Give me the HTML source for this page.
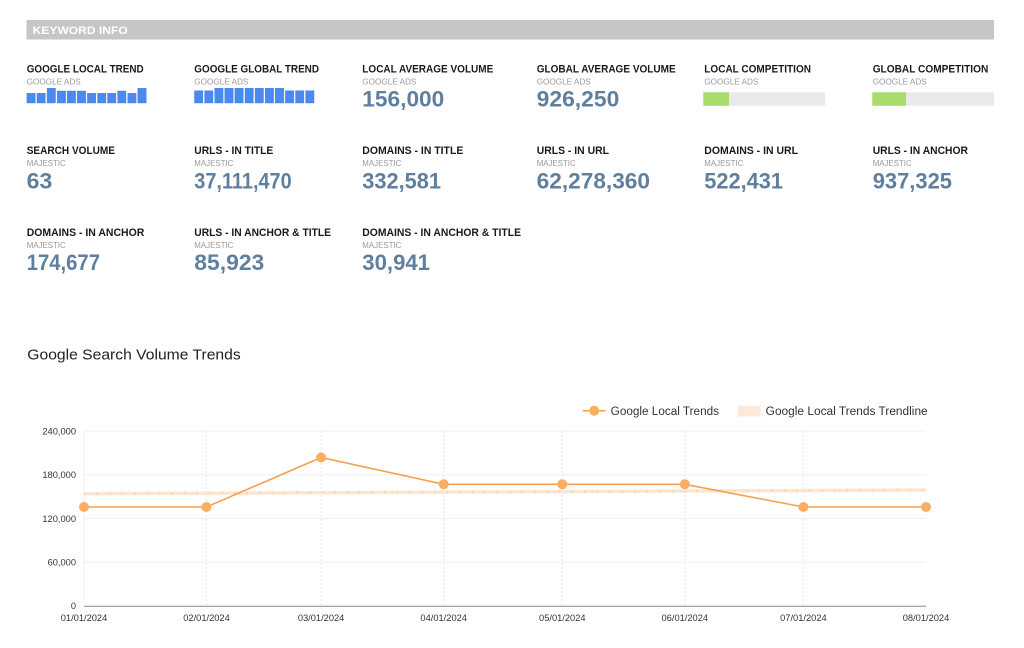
<!DOCTYPE html>
<html>
<head>
<meta charset="utf-8">
<style>
html,body{margin:0;padding:0;background:#fff;}
svg{display:block;}
text{font-family:"Liberation Sans",Arial,sans-serif;}
.t{font-weight:bold;font-size:11px;fill:#1a1a1a;}
.s{font-size:8.4px;fill:#9a9a9a;}
.v{font-weight:bold;font-size:22px;fill:#5f7f9e;}
.ax{font-size:9.3px;fill:#333;}
</style>
</head>
<body>
<svg width="1024" height="648" viewBox="0 0 1024 648" xmlns="http://www.w3.org/2000/svg">
<rect x="0" y="0" width="1024" height="648" fill="#fff"/>
<!-- header -->
<rect x="26.5" y="20" width="967.5" height="19.5" fill="#c6c6c6"/>
<text x="32.7" y="34" font-weight="bold" font-size="11" fill="#fff" textLength="95" lengthAdjust="spacingAndGlyphs">KEYWORD INFO</text>

<!-- Row 1 -->
<text class="t" x="26.7" y="72.3" textLength="117" lengthAdjust="spacingAndGlyphs">GOOGLE LOCAL TREND</text>
<text class="s" x="26.7" y="84.3" textLength="54" lengthAdjust="spacingAndGlyphs">GOOGLE ADS</text>
<g fill="#4a88f2" stroke="#3f7be6" stroke-width="0.4">
<rect x="26.9" y="93.3" width="8.4" height="9.7"/>
<rect x="37.0" y="93.3" width="8.4" height="9.7"/>
<rect x="47.1" y="88.3" width="8.4" height="14.7"/>
<rect x="57.2" y="91" width="8.4" height="12"/>
<rect x="67.2" y="91" width="8.4" height="12"/>
<rect x="77.3" y="91" width="8.4" height="12"/>
<rect x="87.4" y="93.3" width="8.4" height="9.7"/>
<rect x="97.5" y="93.3" width="8.4" height="9.7"/>
<rect x="107.5" y="93.3" width="8.4" height="9.7"/>
<rect x="117.6" y="91" width="8.4" height="12"/>
<rect x="127.7" y="93.3" width="8.4" height="9.7"/>
<rect x="137.8" y="88.3" width="8.4" height="14.7"/>
</g>

<text class="t" x="194.3" y="72.3" textLength="124.7" lengthAdjust="spacingAndGlyphs">GOOGLE GLOBAL TREND</text>
<text class="s" x="194.3" y="84.3" textLength="54" lengthAdjust="spacingAndGlyphs">GOOGLE ADS</text>
<g fill="#4a88f2" stroke="#3f7be6" stroke-width="0.4">
<rect x="194.5" y="90.7" width="8.4" height="12.3"/>
<rect x="204.6" y="90.7" width="8.4" height="12.3"/>
<rect x="214.7" y="88.3" width="8.4" height="14.7"/>
<rect x="224.8" y="88.3" width="8.4" height="14.7"/>
<rect x="234.9" y="88.3" width="8.4" height="14.7"/>
<rect x="245.0" y="88.3" width="8.4" height="14.7"/>
<rect x="255.1" y="88.3" width="8.4" height="14.7"/>
<rect x="265.2" y="88.3" width="8.4" height="14.7"/>
<rect x="275.3" y="88.3" width="8.4" height="14.7"/>
<rect x="285.4" y="90.7" width="8.4" height="12.3"/>
<rect x="295.5" y="90.7" width="8.4" height="12.3"/>
<rect x="305.6" y="90.7" width="8.4" height="12.3"/>
</g>

<text class="t" x="362.3" y="72.3" textLength="131" lengthAdjust="spacingAndGlyphs">LOCAL AVERAGE VOLUME</text>
<text class="s" x="362.3" y="84.3" textLength="54" lengthAdjust="spacingAndGlyphs">GOOGLE ADS</text>
<text class="v" x="362.3" y="106.4" textLength="82" lengthAdjust="spacingAndGlyphs">156,000</text>

<text class="t" x="536.7" y="72.3" textLength="139" lengthAdjust="spacingAndGlyphs">GLOBAL AVERAGE VOLUME</text>
<text class="s" x="536.7" y="84.3" textLength="54" lengthAdjust="spacingAndGlyphs">GOOGLE ADS</text>
<text class="v" x="536.7" y="106.4" textLength="82.6" lengthAdjust="spacingAndGlyphs">926,250</text>

<text class="t" x="704.3" y="72.3" textLength="106.7" lengthAdjust="spacingAndGlyphs">LOCAL COMPETITION</text>
<text class="s" x="704.3" y="84.3" textLength="54" lengthAdjust="spacingAndGlyphs">GOOGLE ADS</text>
<rect x="703.3" y="92.3" width="121.7" height="13.4" fill="#e8e9eb"/>
<rect x="703.3" y="92.3" width="25.7" height="13.4" fill="#a9dc6b"/>

<text class="t" x="872.7" y="72.3" textLength="115.6" lengthAdjust="spacingAndGlyphs">GLOBAL COMPETITION</text>
<text class="s" x="872.7" y="84.3" textLength="54" lengthAdjust="spacingAndGlyphs">GOOGLE ADS</text>
<rect x="872.3" y="92.3" width="121.7" height="13.4" fill="#e8e9eb"/>
<rect x="872.3" y="92.3" width="33.7" height="13.4" fill="#a9dc6b"/>

<!-- Row 2 -->
<text class="t" x="26.7" y="154" textLength="88.3" lengthAdjust="spacingAndGlyphs">SEARCH VOLUME</text>
<text class="s" x="26.7" y="166" textLength="39" lengthAdjust="spacingAndGlyphs">MAJESTIC</text>
<text class="v" x="26.7" y="188.3" textLength="25.6" lengthAdjust="spacingAndGlyphs">63</text>

<text class="t" x="194.3" y="154" textLength="79" lengthAdjust="spacingAndGlyphs">URLS - IN TITLE</text>
<text class="s" x="194.3" y="166" textLength="39" lengthAdjust="spacingAndGlyphs">MAJESTIC</text>
<text class="v" x="194.3" y="188.3" textLength="97.4" lengthAdjust="spacingAndGlyphs">37,111,470</text>

<text class="t" x="362.3" y="154" textLength="101" lengthAdjust="spacingAndGlyphs">DOMAINS - IN TITLE</text>
<text class="s" x="362.3" y="166" textLength="39" lengthAdjust="spacingAndGlyphs">MAJESTIC</text>
<text class="v" x="362.3" y="188.3" textLength="78.7" lengthAdjust="spacingAndGlyphs">332,581</text>

<text class="t" x="536.7" y="154" textLength="72.3" lengthAdjust="spacingAndGlyphs">URLS - IN URL</text>
<text class="s" x="536.7" y="166" textLength="39" lengthAdjust="spacingAndGlyphs">MAJESTIC</text>
<text class="v" x="536.7" y="188.3" textLength="113.3" lengthAdjust="spacingAndGlyphs">62,278,360</text>

<text class="t" x="704.3" y="154" textLength="93.7" lengthAdjust="spacingAndGlyphs">DOMAINS - IN URL</text>
<text class="s" x="704.3" y="166" textLength="39" lengthAdjust="spacingAndGlyphs">MAJESTIC</text>
<text class="v" x="704.3" y="188.3" textLength="78.7" lengthAdjust="spacingAndGlyphs">522,431</text>

<text class="t" x="872.7" y="154" textLength="95.3" lengthAdjust="spacingAndGlyphs">URLS - IN ANCHOR</text>
<text class="s" x="872.7" y="166" textLength="39" lengthAdjust="spacingAndGlyphs">MAJESTIC</text>
<text class="v" x="872.7" y="188.3" textLength="79.3" lengthAdjust="spacingAndGlyphs">937,325</text>

<!-- Row 3 -->
<text class="t" x="26.7" y="236" textLength="117.6" lengthAdjust="spacingAndGlyphs">DOMAINS - IN ANCHOR</text>
<text class="s" x="26.7" y="248" textLength="39" lengthAdjust="spacingAndGlyphs">MAJESTIC</text>
<text class="v" x="26.7" y="270" textLength="73.3" lengthAdjust="spacingAndGlyphs">174,677</text>

<text class="t" x="194.3" y="236" textLength="136.7" lengthAdjust="spacingAndGlyphs">URLS - IN ANCHOR &amp; TITLE</text>
<text class="s" x="194.3" y="248" textLength="39" lengthAdjust="spacingAndGlyphs">MAJESTIC</text>
<text class="v" x="194.3" y="270" textLength="70" lengthAdjust="spacingAndGlyphs">85,923</text>

<text class="t" x="362.3" y="236" textLength="158.7" lengthAdjust="spacingAndGlyphs">DOMAINS - IN ANCHOR &amp; TITLE</text>
<text class="s" x="362.3" y="248" textLength="39" lengthAdjust="spacingAndGlyphs">MAJESTIC</text>
<text class="v" x="362.3" y="270" textLength="67.7" lengthAdjust="spacingAndGlyphs">30,941</text>

<!-- Chart title -->
<text x="27.3" y="359.3" font-size="14.5" fill="#222" textLength="213.4" lengthAdjust="spacingAndGlyphs">Google Search Volume Trends</text>

<!-- Legend -->
<line x1="582.7" y1="410.7" x2="605.7" y2="410.7" stroke="#f7a04c" stroke-width="1.5"/>
<circle cx="594.2" cy="410.7" r="5" fill="#fbad62"/>
<text x="610.7" y="415" font-size="11.5" fill="#333" textLength="108.3" lengthAdjust="spacingAndGlyphs">Google Local Trends</text>
<rect x="737.7" y="405.7" width="23" height="11" fill="#fde9d9"/>
<text x="765.7" y="415" font-size="11.5" fill="#333" textLength="162" lengthAdjust="spacingAndGlyphs">Google Local Trends Trendline</text>

<!-- Grid -->
<g stroke="#efefef" stroke-width="1">
<line x1="84" y1="431" x2="926" y2="431"/>
<line x1="84" y1="474.75" x2="926" y2="474.75"/>
<line x1="84" y1="518.5" x2="926" y2="518.5"/>
<line x1="84" y1="562.25" x2="926" y2="562.25"/>
<line x1="84" y1="431" x2="84" y2="606"/>
</g>
<g stroke="#e6e6e6" stroke-width="1" stroke-dasharray="2,2">
<line x1="206.5" y1="431" x2="206.5" y2="606"/>
<line x1="321.1" y1="431" x2="321.1" y2="606"/>
<line x1="443.7" y1="431" x2="443.7" y2="606"/>
<line x1="562.3" y1="431" x2="562.3" y2="606"/>
<line x1="684.8" y1="431" x2="684.8" y2="606"/>
<line x1="803.4" y1="431" x2="803.4" y2="606"/>
</g>
<line x1="84" y1="606.3" x2="926" y2="606.3" stroke="#8a8a8a" stroke-width="1"/>

<!-- Y labels -->
<g text-anchor="end">
<text x="76" y="434.3" class="ax">240,000</text>
<text x="76" y="478" class="ax">180,000</text>
<text x="76" y="521.8" class="ax">120,000</text>
<text x="76" y="565.5" class="ax">60,000</text>
<text x="76" y="608.8" class="ax">0</text>
</g>
<!-- X labels -->
<g text-anchor="middle">
<text x="84" y="621" class="ax">01/01/2024</text>
<text x="206.5" y="621" class="ax">02/01/2024</text>
<text x="321.1" y="621" class="ax">03/01/2024</text>
<text x="443.7" y="621" class="ax">04/01/2024</text>
<text x="562.3" y="621" class="ax">05/01/2024</text>
<text x="684.8" y="621" class="ax">06/01/2024</text>
<text x="803.4" y="621" class="ax">07/01/2024</text>
<text x="926" y="621" class="ax">08/01/2024</text>
</g>

<!-- Trendline -->
<line x1="84" y1="493.7" x2="926" y2="490" stroke="#fde6d3" stroke-width="3.5"/>
<line x1="84" y1="493.7" x2="926" y2="490" stroke="#f9c9a0" stroke-width="1.5" stroke-dasharray="1.5,11"/>

<!-- Data line -->
<polyline fill="none" stroke="#f7a04c" stroke-width="1.6" points="84,507 206.5,507 321.1,457.5 443.7,484.3 562.3,484.3 684.8,484.3 803.4,507 926,507"/>
<g fill="#fbad62">
<circle cx="84" cy="507" r="5"/>
<circle cx="206.5" cy="507" r="5"/>
<circle cx="321.1" cy="457.5" r="5"/>
<circle cx="443.7" cy="484.3" r="5"/>
<circle cx="562.3" cy="484.3" r="5"/>
<circle cx="684.8" cy="484.3" r="5"/>
<circle cx="803.4" cy="507" r="5"/>
<circle cx="926" cy="507" r="5"/>
</g>
</svg>
</body>
</html>
